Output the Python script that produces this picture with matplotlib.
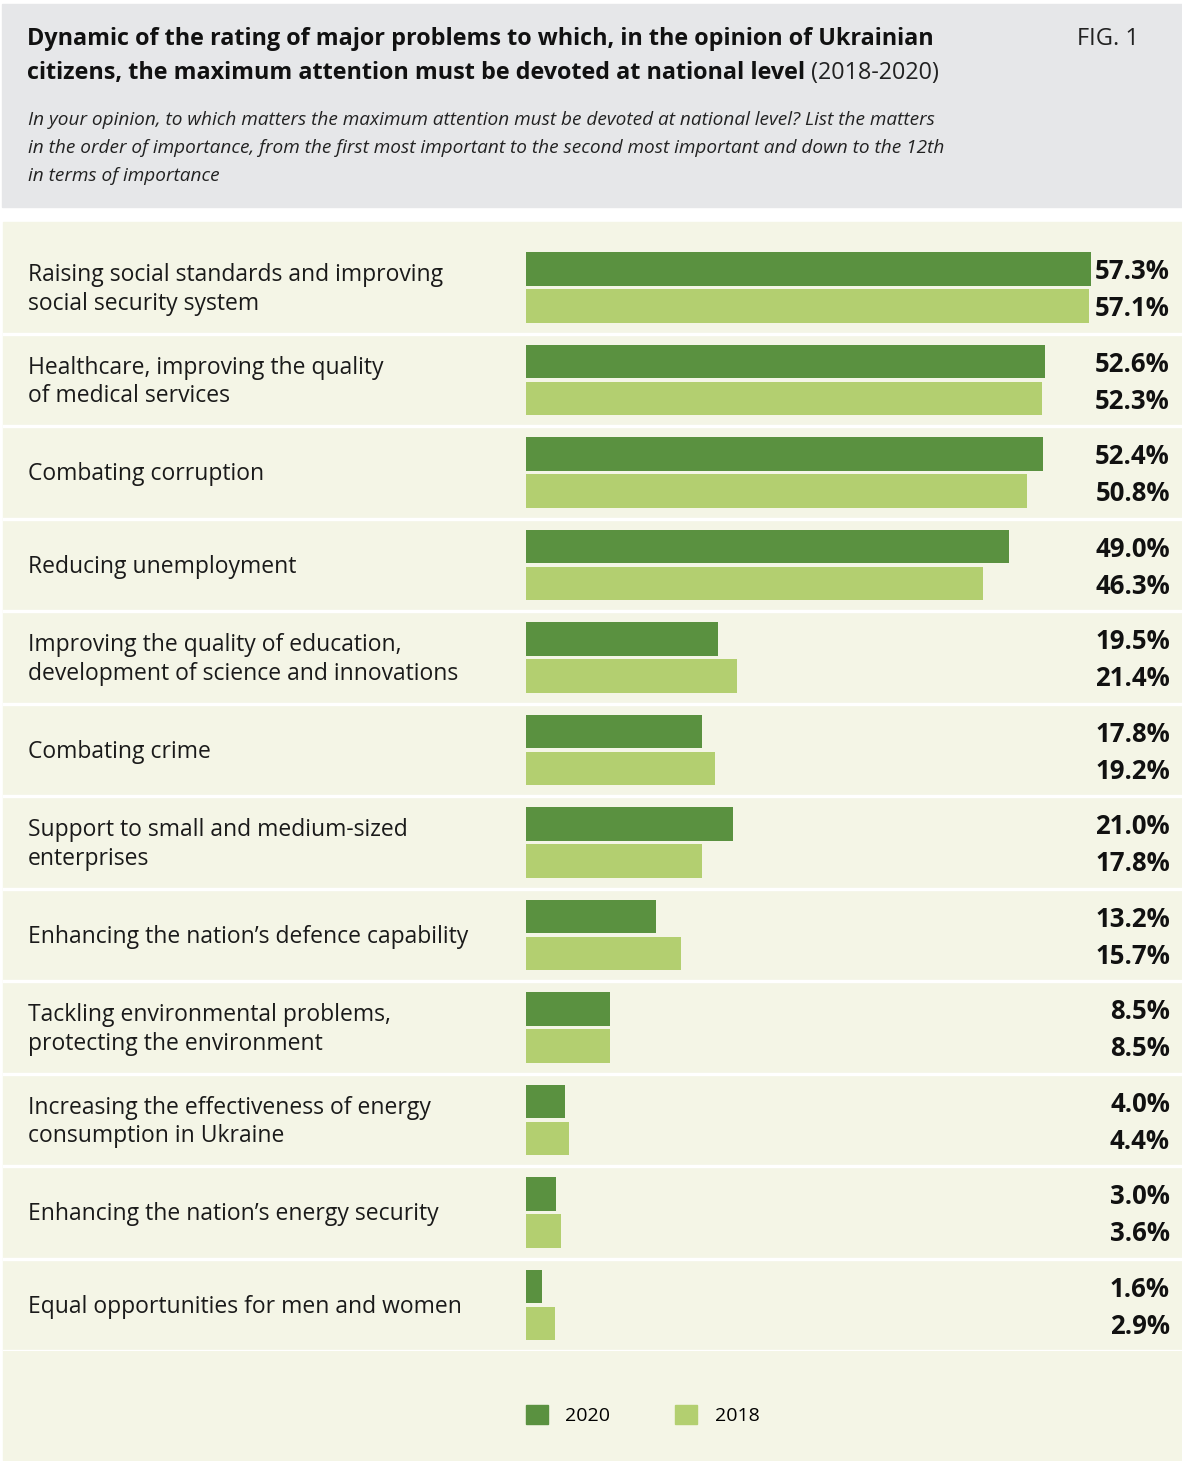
import matplotlib.pyplot as plt
import numpy as np
from matplotlib.patches import Patch, Rectangle
from matplotlib.transforms import blended_transform_factory

plt.rcParams["font.family"] = ["Open Sans", "DejaVu Sans"]

categories = [
    "Raising social standards and improving\nsocial security system",
    "Healthcare, improving the quality\nof medical services",
    "Combating corruption",
    "Reducing unemployment",
    "Improving the quality of education,\ndevelopment of science and innovations",
    "Combating crime",
    "Support to small and medium-sized\nenterprises",
    "Enhancing the nation\u2019s defence capability",
    "Tackling environmental problems,\nprotecting the environment",
    "Increasing the effectiveness of energy\nconsumption in Ukraine",
    "Enhancing the nation\u2019s energy security",
    "Equal opportunities for men and women",
]
values_2020 = [57.3, 52.6, 52.4, 49.0, 19.5, 17.8, 21.0, 13.2, 8.5, 4.0, 3.0, 1.6]
values_2018 = [57.1, 52.3, 50.8, 46.3, 21.4, 19.2, 17.8, 15.7, 8.5, 4.4, 3.6, 2.9]
series_names = ["2020", "2018"]

title_line1 = "Dynamic of the rating of major problems to which, in the opinion of Ukrainian"
title_line2 = "citizens, the maximum attention must be devoted at national level"
title_years = "(2018-2020)"
subtitle = ("In your opinion, to which matters the maximum attention must be devoted at national level? List the matters\n"
            "in the order of importance, from the first most important to the second most important and down to the 12th\n"
            "in terms of importance")

DARK = "#5a9140"
LIGHT = "#b3cf70"
PANEL = "#f4f5e6"
HEADER = "#e6e7e9"

W, H = 1182, 1461


def fx(px):
    return px / W


def fy(py):
    return 1 - py / H


fig = plt.figure(figsize=(W / 100, H / 100), dpi=100)
fig.patch.set_facecolor("white")

# header box and beige panel (behind the axes)
fig.patches.append(Rectangle((fx(2), fy(207)), 1180 / W, 203 / H,
                             transform=fig.transFigure, color=HEADER, zorder=-5))
fig.patches.append(Rectangle((fx(3), fy(1460)), 1179 / W, 1238 / H,
                             transform=fig.transFigure, color=PANEL, zorder=-5))

fig.text(fx(27), fy(39), title_line1, fontsize=16.8, fontweight="bold",
         va="center", ha="left", color="#111111")
t2 = fig.text(fx(27), fy(73), title_line2, fontsize=16.8, fontweight="bold",
              va="center", ha="left", color="#111111")
fig.text(fx(1077), fy(39), "FIG. 1", fontsize=17, va="center", ha="left",
         color="#222222")
fig.text(fx(28), fy(148), subtitle, fontsize=13.7, style="italic",
         va="center", ha="left", linespacing=1.7, color="#222222")

n = len(categories)
y = np.arange(n)
top_px, bot_px = 241.25, 1351.25
rect_h = (bot_px - top_px) / H

# row separators across the whole panel
bg = fig.add_axes([fx(3), fy(bot_px), 1179 / W, rect_h])
bg.set_xlim(0, 1)
bg.set_ylim(n - 0.5, -0.5)
bg.axis("off")
for b in np.arange(0.5, n, 1.0):
    bg.axhline(b, color="white", linewidth=2.4)

ax = fig.add_axes([fx(526), fy(bot_px), 591.6 / W, rect_h])
ax.set_xlim(0, 60)
ax.set_ylim(n - 0.5, -0.5)
ax.axis("off")

ax.annotate(" " + title_years, xy=(1, 0.5), xycoords=t2, ha="left", va="center",
            fontsize=16.8, annotation_clip=False, color="#222222")

bh = 0.357
ax.barh(y - 0.2, values_2020, height=bh, color=DARK, label=series_names[0])
ax.barh(y + 0.2, values_2018, height=bh, color=LIGHT, label=series_names[1])

tr = blended_transform_factory(fig.transFigure, ax.transData)
for i, cat in enumerate(categories):
    ax.text(fx(28), i + 0.02, cat, transform=tr, ha="left", va="center",
            fontsize=16.5, linespacing=1.24, color="#1a1a1a")
    ax.text(fx(1170), i - 0.17, f"{values_2020[i]:.1f}%", transform=tr,
            ha="right", va="center", fontsize=18.5, fontweight="bold",
            color="#111111")
    ax.text(fx(1170), i + 0.23, f"{values_2018[i]:.1f}%", transform=tr,
            ha="right", va="center", fontsize=18.5, fontweight="bold",
            color="#111111")

handles = [Patch(color=DARK), Patch(color=LIGHT)]
fig.legend(handles, series_names, loc="center left",
           bbox_to_anchor=(fx(526), fy(1415)), ncol=2, frameon=False,
           fontsize=14, handlelength=1.13, handleheight=1.13,
           handletextpad=0.88, columnspacing=3.36, borderpad=0,
           borderaxespad=0)

fig.savefig("out.png", dpi=100)
